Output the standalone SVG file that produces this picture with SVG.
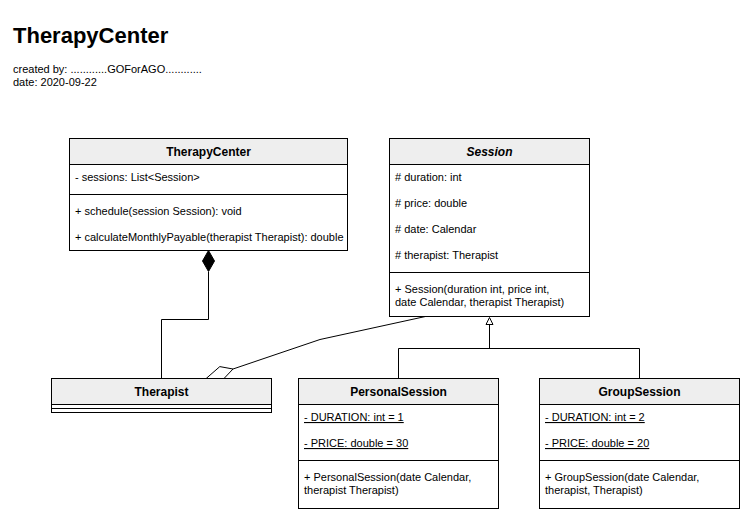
<svg xmlns="http://www.w3.org/2000/svg" width="753" height="524" viewBox="0 0 753 524">
<style>
text{font-family:"Liberation Sans",Arial,Helvetica,sans-serif;fill:#000}
.t{font-size:22px;font-weight:bold}
.m{font-size:11px}
.h{font-size:12px;font-weight:bold;text-anchor:middle}
.box{fill:#fff;stroke:#000;stroke-width:1}
.hd{fill:#eeeeee;stroke:#000;stroke-width:1}
.ln{stroke:#000;stroke-width:1;fill:none}
.u{text-decoration:underline}
</style>
<rect width="753" height="524" fill="#fff"/>
<text class="t" x="13" y="43">TherapyCenter</text>
<text class="m" x="13" y="73">created by: ............GOForAGO............</text>
<text class="m" x="13" y="86">date: 2020-09-22</text>

<g id="connectors">
  <path class="ln" d="M208.5 272 V319.5 H161.5 V378.5"/>
  <polygon points="208.5,250.5 214.5,261 208.5,271.5 202.5,261" fill="#000" stroke="#000"/>
  <path class="ln" d="M430 315.5 L320 339.5 L233 369"/>
  <polygon points="233,369 219.8,366.6 206.5,378.2 222,380.6" fill="#fff" stroke="#000"/>
  <path class="ln" d="M489.5 324 V348.5 M398.5 378.5 V348.5 H639.5 V378.5"/>
  <polygon points="489.5,317.5 493,324.5 486,324.5" fill="#fff" stroke="#000"/>
</g>

<g id="TherapyCenter">
  <rect class="box" x="69.5" y="138.5" width="278" height="112"/>
  <rect class="hd" x="69.5" y="138.5" width="278" height="26"/>
  <text class="h" x="208.5" y="156">TherapyCenter</text>
  <text class="m" x="75" y="181">- sessions: List&lt;Session&gt;</text>
  <line class="ln" x1="69.5" y1="194.5" x2="347.5" y2="194.5"/>
  <text class="m" x="75" y="215">+ schedule(session Session): void</text>
  <text class="m" x="75" y="241">+ calculateMonthlyPayable(therapist Therapist): double</text>
</g>

<g id="Session">
  <rect class="box" x="389.5" y="138.5" width="200" height="178"/>
  <rect class="hd" x="389.5" y="138.5" width="200" height="26"/>
  <text class="h" x="489.5" y="156" font-style="italic">Session</text>
  <text class="m" x="395" y="181"># duration: int</text>
  <text class="m" x="395" y="207"># price: double</text>
  <text class="m" x="395" y="233"># date: Calendar</text>
  <text class="m" x="395" y="259"># therapist: Therapist</text>
  <line class="ln" x1="389.5" y1="272.5" x2="589.5" y2="272.5"/>
  <text class="m" x="395" y="293">+ Session(duration int, price int,</text>
  <text class="m" x="395" y="306">date Calendar, therapist Therapist)</text>
</g>

<g id="Therapist">
  <rect class="box" x="51.5" y="378.5" width="220" height="34"/>
  <rect class="hd" x="51.5" y="378.5" width="220" height="26"/>
  <text class="h" x="161.5" y="396">Therapist</text>
  <line class="ln" x1="51.5" y1="408.5" x2="271.5" y2="408.5"/>
</g>

<g id="PersonalSession">
  <rect class="box" x="298.5" y="378.5" width="200" height="130"/>
  <rect class="hd" x="298.5" y="378.5" width="200" height="26"/>
  <text class="h" x="398.5" y="396">PersonalSession</text>
  <text class="m u" x="304" y="421">- DURATION: int = 1</text>
  <text class="m u" x="304" y="447">- PRICE: double = 30</text>
  <line class="ln" x1="298.5" y1="460.5" x2="498.5" y2="460.5"/>
  <text class="m" x="304" y="481">+ PersonalSession(date Calendar,</text>
  <text class="m" x="304" y="494">therapist Therapist)</text>
</g>

<g id="GroupSession">
  <rect class="box" x="539.5" y="378.5" width="200" height="130"/>
  <rect class="hd" x="539.5" y="378.5" width="200" height="26"/>
  <text class="h" x="639.5" y="396">GroupSession</text>
  <text class="m u" x="545" y="421">- DURATION: int = 2</text>
  <text class="m u" x="545" y="447">- PRICE: double = 20</text>
  <line class="ln" x1="539.5" y1="460.5" x2="739.5" y2="460.5"/>
  <text class="m" x="545" y="481">+ GroupSession(date Calendar,</text>
  <text class="m" x="545" y="494">therapist, Therapist)</text>
</g>
</svg>
